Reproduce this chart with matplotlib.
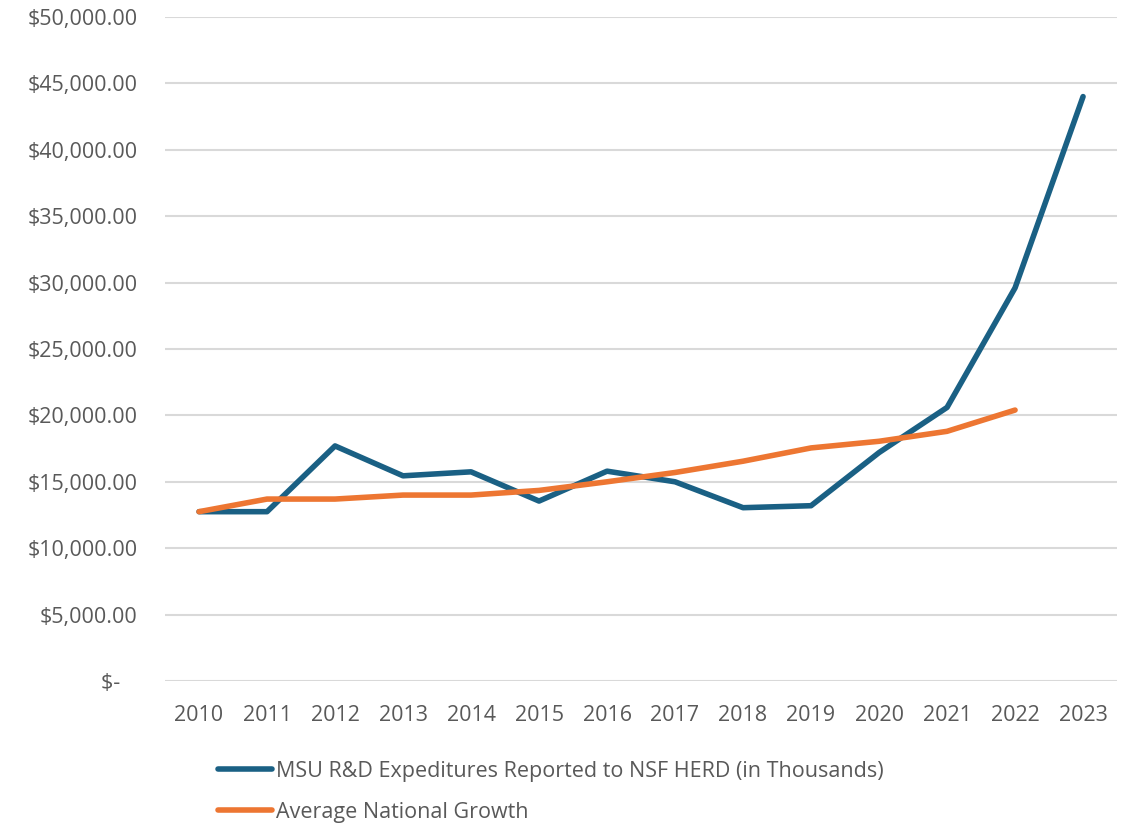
import matplotlib
matplotlib.use("Agg")
import matplotlib.pyplot as plt
from matplotlib.ticker import FuncFormatter

plt.rcParams['font.family'] = ['Open Sans', 'DejaVu Sans']

# datos
years = ['2010', '2011', '2012', '2013', '2014', '2015', '2016',
         '2017', '2018', '2019', '2020', '2021', '2022', '2023']
msu_rd = [12750, 12750, 17700, 15450, 15750, 13550, 15800,
          15000, 13050, 13200, 17200, 20600, 29600, 44000]
national_growth = [12750, 13700, 13700, 14000, 14000, 14350, 15000,
                   15700, 16550, 17550, 18050, 18800, 20400]

msu_label = 'MSU R&D Expeditures Reported to NSF HERD (in Thousands)'
nat_label = 'Average National Growth'

blue = '#1a6084'
orange = '#ed7632'
text_color = '#595959'

fig = plt.figure(figsize=(11.35, 8.24), dpi=100)
ax = fig.add_axes([0.1454, 0.1735, 0.8388, 0.806])

x = list(range(len(years)))
ax.plot(x, msu_rd, color=blue, linewidth=4, solid_capstyle='round',
        solid_joinstyle='round', label=msu_label, zorder=3)
ax.plot(x[:len(national_growth)], national_growth, color=orange, linewidth=4,
        solid_capstyle='round', solid_joinstyle='round', label=nat_label, zorder=4)

ax.set_xlim(-0.5, len(years) - 0.5)
ax.set_ylim(0, 50000)
ax.set_yticks(range(0, 50001, 5000))
ax.set_xticks(x)
ax.set_xticklabels(years)


def money(v, pos):
    if v == 0:
        return '$-   '
    return f'${v:,.2f}'


ax.yaxis.set_major_formatter(FuncFormatter(money))
ax.grid(axis='y', color='#d9d9d9', linewidth=1.5)
ax.set_axisbelow(True)
for s in ax.spines.values():
    s.set_visible(False)
ax.tick_params(length=0, labelsize=15.5, colors=text_color)
ax.tick_params(axis='y', pad=20)
ax.tick_params(axis='x', pad=17)

leg = fig.legend(loc='upper left', bbox_to_anchor=(0.192, 0.077), frameon=False,
                 fontsize=15.5, handlelength=2.5, handletextpad=0.2,
                 labelspacing=0.95, borderaxespad=0, borderpad=0)
for t in leg.get_texts():
    t.set_color(text_color)

fig.savefig('out.png', dpi=100)
